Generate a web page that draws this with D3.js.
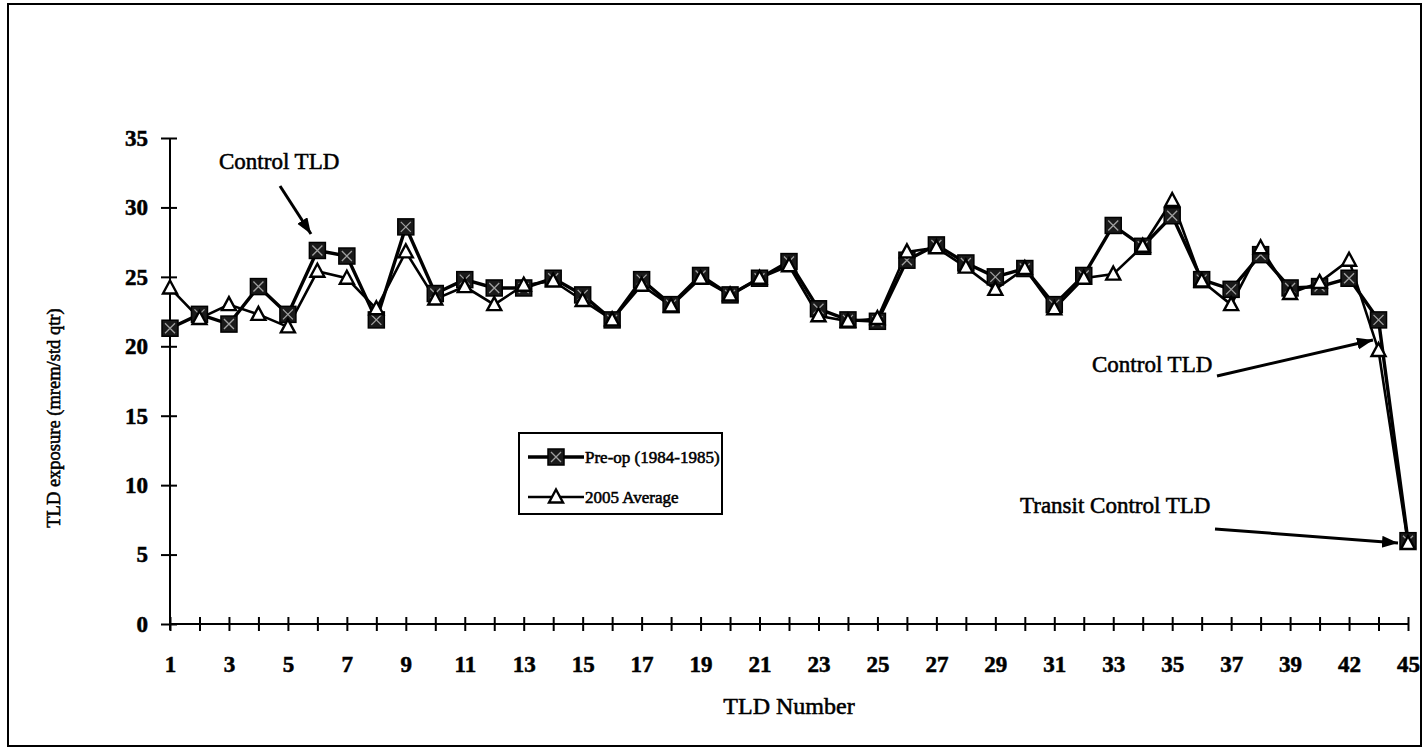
<!DOCTYPE html>
<html><head><meta charset="utf-8">
<script src="https://cdn.jsdelivr.net/npm/d3@7"></script>
<style>
body{margin:0;background:#fff}
svg{display:block}
text{font-family:"Liberation Serif","Times New Roman",serif;fill:#000;stroke:#000;stroke-width:0.55px}
</style>
</head><body>
<svg id="c" width="1425" height="750"></svg>
<script>
const categories = ["1","2","3","4","5","6","7","8","9","10","11","12","13","14","15","16","17","18","19","20",
  "21","22","23","24","25","26","27","28","29","30","31","32","33","34","35","36","37","38","39","41","42","44","45"];
const preop = [21.3,22.3,21.6,24.3,22.3,26.9,26.5,21.9,28.6,23.8,24.8,24.2,24.2,24.9,23.7,21.9,24.8,23.0,25.1,23.7,
  24.9,26.1,22.7,21.9,21.8,26.2,27.3,26.0,25.0,25.6,23.0,25.1,28.7,27.2,29.4,24.8,24.1,26.6,24.2,24.3,24.9,21.9,6.0];
const avg2005 = [24.2,22.0,23.0,22.3,21.4,25.4,24.9,22.7,26.8,23.4,24.3,23.0,24.4,24.7,23.3,21.9,24.4,22.9,24.9,23.7,
  24.9,25.8,22.2,21.8,22.0,26.8,27.1,25.7,24.1,25.6,22.7,24.9,25.2,27.2,30.5,24.7,23.0,27.1,23.8,24.6,26.2,19.7,5.8];
const yTicks = [0,5,10,15,20,25,30,35];
const seriesNames = ["Pre-op (1984-1985)","2005 Average"];
const xTitle = "TLD Number";
const yTitle = "TLD exposure (mrem/std qtr)";

const svg = d3.select("#c");
const x = d3.scalePoint().domain(categories).range([170,1408]);
const y = d3.scaleLinear().domain([0,35]).range([624,138]);

// frame
svg.append("rect").attr("x",8).attr("y",4).attr("width",1413).attr("height",742)
  .attr("fill","none").attr("stroke","#000").attr("stroke-width",2);

// arrow marker
const defs = svg.append("defs");
defs.append("marker").attr("id","ah").attr("markerUnits","userSpaceOnUse")
  .attr("markerWidth",18).attr("markerHeight",14).attr("refX",16).attr("refY",6)
  .attr("orient","auto")
  .append("path").attr("d","M0,0 L16,6 L0,12 Z").attr("fill","#000");

// Y axis
const yAxis = svg.append("g").attr("transform","translate(170,0)")
  .call(d3.axisLeft(y).tickValues(yTicks).tickSize(9).tickPadding(13));
yAxis.select(".domain").attr("stroke-width",2).attr("d","M0,138V630");
yAxis.selectAll(".tick line").attr("x1",7).attr("stroke-width",2);
yAxis.selectAll(".tick text").attr("font-size",23).attr("font-weight","bold")
  .style("font-family","Liberation Serif");

// X axis
const xAxis = svg.append("g").attr("transform","translate(0,624)")
  .call(d3.axisBottom(x).tickValues(categories).tickSize(7).tickPadding(0)
    .tickFormat((d,i)=> i%2===0 ? d : ""));
xAxis.select(".domain").attr("stroke-width",2).attr("d","M170,0H1408");
xAxis.selectAll(".tick line").attr("y1",-7).attr("stroke-width",2);
xAxis.selectAll(".tick text").attr("font-size",23).attr("font-weight","bold")
  .attr("y",32).attr("dy","0.71em").style("font-family","Liberation Serif");

// axis titles
svg.append("text").attr("x",789).attr("y",714).attr("text-anchor","middle")
  .attr("font-size",24).text(xTitle);
svg.append("text").attr("transform","translate(60,418) rotate(-90)").attr("text-anchor","middle")
  .attr("font-size",18.5).attr("stroke-width",0.3).text(yTitle);

// lines
const line = d3.line().x((d,i)=>x(categories[i])).y(d=>y(d));
svg.append("path").datum(preop).attr("d",line).attr("fill","none").attr("stroke","#000").attr("stroke-width",3.4);
svg.append("path").datum(avg2005).attr("d",line).attr("fill","none").attr("stroke","#000").attr("stroke-width",2.6);

function square(g, cx, cy){
  g.append("rect").attr("x",cx-8).attr("y",cy-8).attr("width",16).attr("height",16)
    .attr("fill","#1a1a1a").attr("stroke","#000").attr("stroke-width",1.5);
  g.append("path").attr("d",`M${cx-5},${cy-5}L${cx+5},${cy+5}M${cx+5},${cy-5}L${cx-5},${cy+5}`)
    .attr("stroke","#a0a0a0").attr("stroke-width",1.3);
}
function tri(g, cx, cy){
  g.append("path").attr("d",`M${cx},${cy-7.5}L${cx+7},${cy+5.5}L${cx-7},${cy+5.5}Z`)
    .attr("fill","#fff").attr("stroke","#000").attr("stroke-width",2.4);
}
const gS = svg.append("g");
preop.forEach((v,i)=>square(gS, x(categories[i]), y(v)));
const gT = svg.append("g");
avg2005.forEach((v,i)=>tri(gT, x(categories[i]), y(v)));

// legend
const lg = svg.append("g");
lg.append("rect").attr("x",519).attr("y",433).attr("width",203).attr("height",81)
  .attr("fill","#fff").attr("stroke","#000").attr("stroke-width",2);
lg.append("line").attr("x1",528).attr("x2",584).attr("y1",457).attr("y2",457).attr("stroke","#000").attr("stroke-width",3.4);
square(lg,556,457);
lg.append("line").attr("x1",528).attr("x2",584).attr("y1",497).attr("y2",497).attr("stroke","#000").attr("stroke-width",2.6);
tri(lg,556,497);
lg.append("text").attr("x",585).attr("y",463).attr("font-size",17).text(seriesNames[0]);
lg.append("text").attr("x",585).attr("y",503).attr("font-size",17).text(seriesNames[1]);

// annotations
function ann(txt, tx, ty, x1, y1, x2, y2){
  svg.append("text").attr("x",tx).attr("y",ty).attr("font-size",23).text(txt);
  svg.append("line").attr("x1",x1).attr("y1",y1).attr("x2",x2).attr("y2",y2)
    .attr("stroke","#000").attr("stroke-width",3).attr("marker-end","url(#ah)");
}
ann("Control TLD",219,169,280,186,311,234);
ann("Control TLD",1092,372,1217,376,1373,340);
ann("Transit Control TLD",1020,513,1215,529,1398,543);
</script>
</body></html>
